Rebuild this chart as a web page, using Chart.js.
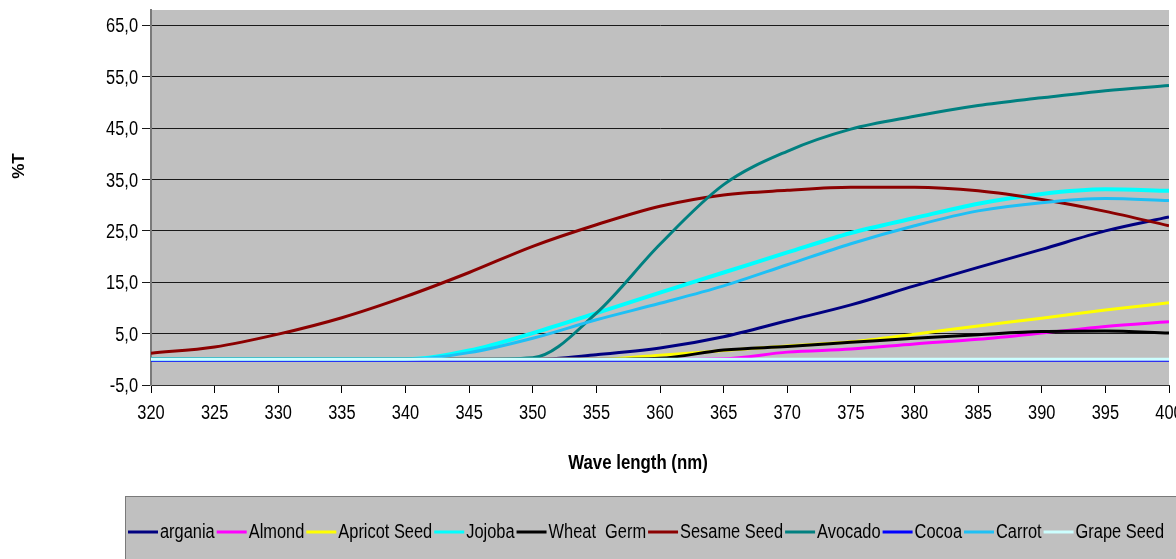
<!DOCTYPE html>
<html>
<head>
<meta charset="utf-8">
<script src="https://cdn.jsdelivr.net/npm/chart.js@4"></script>
<style>
  html,body{margin:0;padding:0;background:#fff;overflow:hidden}
  #wrap{position:absolute;left:0;top:0;width:1190px;height:575px}
</style>
</head>
<body>
<div id="wrap"><canvas id="ch"></canvas></div>
<script>
// ===================== DATOS =====================
const waveLength=[320,325,330,335,340,345,350,355,360,365,370,375,380,385,390,395,400];
const xTicks=[320,325,330,335,340,345,350,355,360,365,370,375,380,385,390,395,400];
const yTicks=[-5,5,15,25,35,45,55,65];

const argania    =[0,0,0,0,0,0,0,0.9,2.2,4.4,7.5,10.6,14.3,17.9,21.4,25.0,27.7];
const almond     =[0,0,0,0,0,0,0,0,0,0.1,1.4,2.0,3.0,3.9,5.1,6.4,7.3];
const apricotSeed=[0,0,0,0,0,0,0,0,0.8,1.7,2.6,3.4,4.9,6.5,8.0,9.6,11.0];
const jojoba     =[0,0,0,0,0,1.7,5.1,9.0,13.0,16.9,20.8,24.6,27.5,30.3,32.2,33.1,32.8];
const wheatGerm  =[0,0,0,0,0,0,0,0,0.2,1.8,2.5,3.3,4.1,4.8,5.4,5.5,5.1];
const sesameSeed =[1.2,2.4,4.9,8.1,12.2,16.9,22.0,26.2,29.8,32.0,32.9,33.5,33.5,32.8,31.1,28.8,26.0];
const avocado    =[0,0,0,0,0,0,0.3,9.0,22.4,34.0,40.5,44.8,47.3,49.4,50.9,52.3,53.3];
const cocoa      =[-0.2,-0.2,-0.2,-0.2,-0.2,-0.2,-0.2,-0.2,-0.2,-0.2,-0.2,-0.2,-0.2,-0.2,-0.2,-0.2,-0.2];
const carrot     =[0,0,0,0,0,1.3,4.1,7.7,10.9,14.3,18.4,22.5,26.0,28.9,30.5,31.3,30.9];
const grapeSeed  =[0,0,0,0,0,0,0,0,0,0,0,0,0,0,0,0,0];

const series=[
  {label:'argania',      data:argania,     color:'#000080', w:3},
  {label:'Almond',       data:almond,      color:'#ff00ff', w:3},
  {label:'Apricot Seed', data:apricotSeed, color:'#ffff00', w:3},
  {label:'Jojoba',       data:jojoba,      color:'#00ffff', w:4},
  {label:'Wheat  Germ',  data:wheatGerm,   color:'#000000', w:3},
  {label:'Sesame Seed',  data:sesameSeed,  color:'#8b0000', w:3},
  {label:'Avocado',      data:avocado,     color:'#008080', w:3},
  {label:'Cocoa',        data:cocoa,       color:'#0000ff', w:3},
  {label:'Carrot',       data:carrot,      color:'#1ec0f5', w:3},
  {label:'Grape Seed',   data:grapeSeed,   color:'#ccffff', w:3}
];

const SANS="'Liberation Sans',Arial,sans-serif";
const NARROW=0.82; // simula Arial Narrow

// texto estrecho: escala horizontal
function narrowText(x,txt,px,py,align){
  x.save();x.translate(px,py);x.scale(NARROW,1);x.textAlign=align;x.fillText(txt,0,0);x.restore();
}

// fondo gris del area de trazado
const plotBg={id:'plotBg',beforeDraw(c){
  const a=c.chartArea,x=c.ctx;
  x.save();x.fillStyle='#c0c0c0';x.fillRect(a.left,a.top,a.right-a.left,a.bottom-a.top);x.restore();
}};

// etiquetas, titulos de ejes + leyenda en caja
const extras={id:'extras',afterDraw(c){
  const x=c.ctx,sx=c.scales.x,sy=c.scales.y;
  x.save();
  x.fillStyle='#000';
  x.font="20px "+SANS;x.textBaseline='alphabetic';
  xTicks.forEach(v=>narrowText(x,String(v),sx.getPixelForValue(v),419,'center'));
  yTicks.forEach(v=>narrowText(x,v.toFixed(1).replace('.',','),138,sy.getPixelForValue(v)+7,'right'));

  x.textBaseline='middle';
  x.font="bold 20.5px "+SANS;
  narrowText(x,'Wave length (nm)',638,463,'center');
  x.translate(19,166);x.rotate(-Math.PI/2);
  x.font="bold 17px "+SANS;x.textAlign='center';
  x.fillText('%T',0,0);
  x.restore();

  // leyenda
  x.save();
  x.fillStyle='#c0c0c0';x.strokeStyle='#7a7a7a';x.lineWidth=1;
  x.fillRect(125.5,496.5,1100,100);x.strokeRect(125.5,496.5,1100,100);
  x.font="20px "+SANS;x.textBaseline='middle';
  let px=128;const py=532;
  series.forEach(s=>{
    x.strokeStyle=s.color;x.lineWidth=3;
    x.beginPath();x.moveTo(px,py);x.lineTo(px+30,py);x.stroke();
    x.fillStyle='#000';narrowText(x,s.label,px+32,py,'left');
    px+=32+x.measureText(s.label).width*NARROW+2;
  });
  x.restore();
}};

const n=series.length;
new Chart(document.getElementById('ch'),{
  type:'line',
  data:{labels:waveLength,datasets:series.map((s,i)=>({
    label:s.label,
    data:waveLength.map((w,j)=>({x:w,y:s.data[j]})),
    borderColor:s.color,backgroundColor:s.color,borderWidth:s.w,
    pointRadius:0,cubicInterpolationMode:'monotone',fill:false,
    order:n-i
  }))},
  options:{
    responsive:true,maintainAspectRatio:false,animation:false,
    layout:{padding:{top:10,left:0,right:21,bottom:90}},
    plugins:{legend:{display:false},tooltip:{enabled:false}},
    scales:{
      x:{type:'linear',min:320,max:400,
        afterFit(s){s.height=100;},
        afterBuildTicks(s){s.ticks=xTicks.map(v=>({value:v}));},
        ticks:{display:false},
        grid:{drawOnChartArea:false,drawTicks:true,tickLength:8,color:'#000'},
        border:{display:true,color:'#333',width:1}
      },
      y:{min:-5,max:68,
        afterFit(s){s.width=151;},
        afterBuildTicks(s){s.ticks=yTicks.map(v=>({value:v}));},
        ticks:{display:false},
        grid:{color:'#1a1a1a',lineWidth:1,drawTicks:true,tickLength:9},
        border:{display:true,color:'#7a7a7a',width:2}
      }
    }
  },
  plugins:[plotBg,extras]
});
</script>
</body>
</html>
